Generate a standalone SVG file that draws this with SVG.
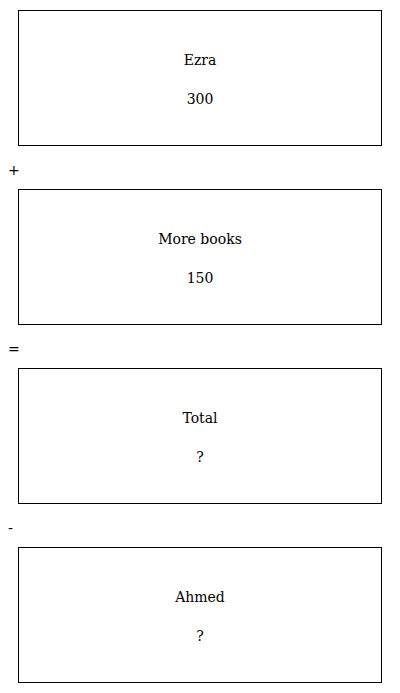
<svg xmlns="http://www.w3.org/2000/svg" width="400" height="693" viewBox="0 0 400 693">
<style>
.box{fill:#fff;stroke:#000;stroke-width:1}
.t{font-family:"DejaVu Serif","Liberation Serif",serif;font-size:14px;fill:#000;text-anchor:middle}
.op{font-family:"DejaVu Sans","Liberation Sans",sans-serif;font-size:14px;fill:#000}
</style>
<rect width="400" height="693" fill="#fff"/>
<g id="ezra">
<rect class="box" x="18.5" y="10.5" width="363" height="135"/>
<text class="t" x="200" y="65">Ezra</text>
<text class="t" x="200" y="104">300</text>
</g>
<g id="op-plus"><text class="op" x="8" y="175">+</text></g>
<g id="more">
<rect class="box" x="18.5" y="189.5" width="363" height="135"/>
<text class="t" x="200" y="244">More books</text>
<text class="t" x="200" y="283">150</text>
</g>
<g id="op-eq"><text class="op" x="8" y="354">=</text></g>
<g id="total">
<rect class="box" x="18.5" y="368.5" width="363" height="135"/>
<text class="t" x="200" y="423">Total</text>
<text class="t" x="200" y="462">?</text>
</g>
<g id="op-minus"><text class="op" x="8" y="533">-</text></g>
<g id="ahmed">
<rect class="box" x="18.5" y="547.5" width="363" height="135"/>
<text class="t" x="200" y="602">Ahmed</text>
<text class="t" x="200" y="641">?</text>
</g>
<g id="connectors"></g>
</svg>
